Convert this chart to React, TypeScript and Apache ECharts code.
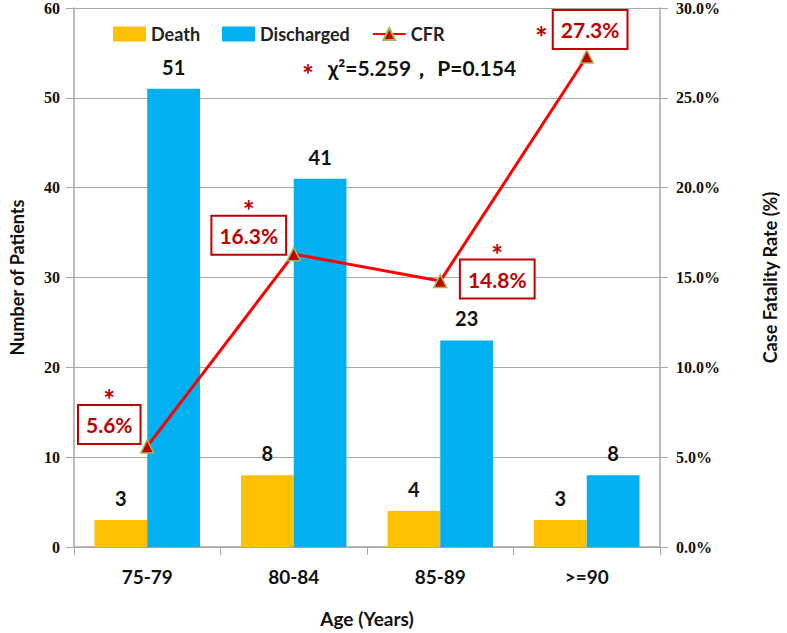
import React, { useEffect, useRef } from "react";
import * as echarts from "echarts";

const categories = ["75-79", "80-84", "85-89", ">=90"];
const deaths = [3, 8, 4, 3];
const discharged = [51, 41, 23, 8];
const cfr = [5.6, 16.3, 14.8, 27.3];
const leftTicks = { min: 0, max: 60, interval: 10 };
const rightTicks = { min: 0, max: 30, interval: 5 };
const cfrLabelOffsets = [
  [-38, -35],
  [-45, -32],
  [57, -15],
  [-6, -27],
];

const DARK_RED = "#C00000";

export default function App() {
  const ref = useRef<HTMLDivElement>(null);
  useEffect(() => {
    if (!ref.current) return;
    const chart = echarts.init(ref.current, undefined, { renderer: "svg" });
    const sans = "Lato";
    const serif = "Liberation Serif";
    const gray = "#A6A6A6";
    chart.setOption({
      animation: false,
      backgroundColor: "#fff",
      grid: { left: 70, right: 113, top: 8, bottom: 85 },
      legend: {
        left: 108,
        top: 20,
        itemWidth: 33,
        itemHeight: 15,
        itemGap: 22,
        textStyle: { fontFamily: sans, fontWeight: "bold", fontSize: 18, color: "#222" },
        data: [
          { name: "Death", icon: "rect" },
          { name: "Discharged", icon: "rect" },
          { name: "CFR" },
        ],
      },
      graphic: [
        {
          type: "text",
          left: 302,
          top: 57,
          style: {
            text: "{s|*}{t|χ²=5.259， P=0.154}",
            rich: {
              s: { fill: DARK_RED, fontSize: 28, fontWeight: "bold", fontFamily: sans, padding: [12, 14, 0, 0] },
              t: { fill: "#111", fontSize: 21, fontWeight: "bold", fontFamily: sans },
            },
          },
        },
      ],
      xAxis: {
        type: "category",
        data: categories,
        name: "Age (Years)",
        nameLocation: "middle",
        nameGap: 62,
        nameTextStyle: { fontFamily: sans, fontWeight: "bold", fontSize: 19, color: "#111" },
        axisLine: { lineStyle: { color: gray, width: 1.5 } },
        axisTick: { show: true, length: 8, lineStyle: { color: gray } },
        axisLabel: { fontFamily: sans, fontWeight: "bold", fontSize: 19, color: "#111", margin: 20 },
      },
      yAxis: [
        {
          type: "value",
          ...leftTicks,
          name: "Number of Patients",
          nameLocation: "middle",
          nameRotate: 90,
          nameGap: 48,
          nameTextStyle: { fontFamily: sans, fontWeight: "bold", fontSize: 18, color: "#111" },
          axisLine: { show: true, lineStyle: { color: gray, width: 1.5 } },
          axisTick: { show: true, length: 8, lineStyle: { color: gray } },
          axisLabel: { fontFamily: serif, fontWeight: "bold", fontSize: 16, color: "#111", margin: 14 },
          splitLine: { lineStyle: { color: gray, width: 1.2 } },
        },
        {
          type: "value",
          ...rightTicks,
          name: "Case Fatality Rate (%)",
          nameLocation: "middle",
          nameRotate: 90,
          nameGap: 101,
          nameTextStyle: { fontFamily: sans, fontWeight: "bold", fontSize: 18, color: "#111" },
          axisLine: { show: true, lineStyle: { color: gray, width: 1.5 } },
          axisTick: { show: true, length: 8, lineStyle: { color: gray } },
          axisLabel: {
            fontFamily: serif,
            fontWeight: "bold",
            fontSize: 16,
            color: "#111",
            margin: 16,
            formatter: (v: number) => v.toFixed(1) + "%",
          },
          splitLine: { show: false },
        },
      ],
      series: [
        {
          name: "Death",
          type: "bar",
          data: deaths,
          barGap: "0%",
          barCategoryGap: "28%",
          itemStyle: { color: "#FFC000" },
          label: { show: true, position: "top", distance: 12, fontFamily: sans, fontWeight: "bold", fontSize: 20, color: "#111" },
        },
        {
          name: "Discharged",
          type: "bar",
          data: discharged,
          barGap: "0%",
          barCategoryGap: "28%",
          itemStyle: { color: "#00B0F0" },
          label: { show: true, position: "top", distance: 12, fontFamily: sans, fontWeight: "bold", fontSize: 20, color: "#111" },
        },
        {
          name: "CFR",
          type: "line",
          yAxisIndex: 1,
          data: cfr.map((v, i) => ({
            value: v,
            label: {
              show: true,
              position: "inside",
              offset: cfrLabelOffsets[i],
              formatter: i === 3 ? "{s2|*}{b|" + v.toFixed(1) + "%}" : "{s|*}\n{b|" + v.toFixed(1) + "%}",
            },
          })),
          symbol: "triangle",
          symbolSize: 13,
          lineStyle: { color: "#FF0000", width: 3 },
          itemStyle: { color: DARK_RED, borderColor: "#9BBB59", borderWidth: 1.5 },
          label: {
            show: true,
            align: "center",
            rich: {
              s: { color: DARK_RED, fontSize: 28, fontWeight: "bold", fontFamily: sans, lineHeight: 26, padding: [0, 0, 4, 0] },
              s2: { color: DARK_RED, fontSize: 30, fontWeight: "bold", fontFamily: sans, padding: [14, 6, 0, 0] },
              b: {
                color: DARK_RED,
                fontSize: 21,
                fontWeight: "bold",
                fontFamily: sans,
                lineHeight: 21,
                backgroundColor: "#fff",
                borderColor: DARK_RED,
                borderWidth: 2,
                padding: [8, 7, 8, 7],
              },
            },
          },
          z: 5,
        },
      ],
    });
    return () => chart.dispose();
  }, []);
  return (
    <div
      ref={ref}
      style={{ position: "fixed", left: 0, top: 0, width: 787, height: 633 }}
    />
  );
}
